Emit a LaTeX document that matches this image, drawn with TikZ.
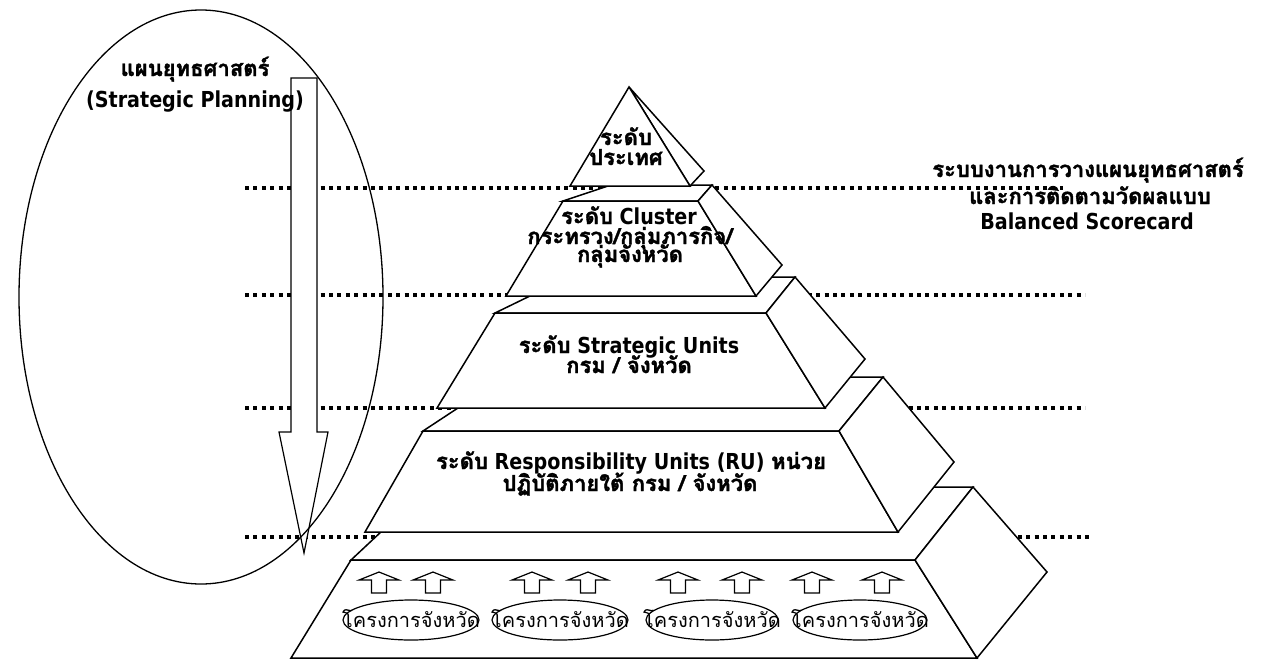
\documentclass[tikz,border=0pt]{standalone}
\usepackage{fontspec}
\setmainfont{DejaVu Sans}[FakeStretch=0.87]
\newfontfamily\thaifont[Script=Thai,BoldFeatures={FakeBold=1.6}]{Loma}
\newcommand\tht[1]{{\thaifont #1}}
\begin{document}
\begin{tikzpicture}[x=1pt,y=-1pt,
  face/.style={draw=black,fill=white,line width=1.5pt,line join=miter},
  guide/.style={line width=4pt,dash pattern=on 4pt off 4.4pt},
  lbl/.style={font=\fontsize{22}{26}\selectfont\bfseries,inner sep=0pt,anchor=base},
  ptxt/.style={font=\fontsize{20}{24}\selectfont,inner sep=0pt,anchor=base},
  projoval/.style={draw,line width=1.2pt},
  uparrow/.style={draw,line width=1.2pt,fill=white,line join=miter}]
\useasboundingbox (0,0) rectangle (1261,659);

% dotted guide lines (behind everything)
\coordinate (d1a) at (245,188); \coordinate (d1b) at (1063,188);
\coordinate (d2a) at (245,295); \coordinate (d2b) at (1085,295);
\coordinate (d3a) at (245,408); \coordinate (d3b) at (1085,408);
\coordinate (d4a) at (245,537); \coordinate (d4b) at (1090,537);
\draw[guide] (d1a) -- (d1b);
\draw[guide] (d2a) -- (d2b);
\draw[guide] (d3a) -- (d3b);
\draw[guide] (d4a) -- (d4b);

% big downward arrow
\filldraw[face,line width=1.2pt] (291,78) -- (317,78) -- (317,432) -- (328,432) -- (304,553) -- (279,432) -- (291,432) -- cycle;
% ellipse
\draw[line width=1.3pt] (201,297) ellipse [x radius=182pt, y radius=287pt];

% ---- pyramid, bottom layer first ----
% layer 5
\filldraw[face] (351,560) -- (429,487) -- (973,487) -- (915,560) -- cycle;
\filldraw[face] (351,560) -- (915,560) -- (977,658) -- (291,658) -- cycle;
\filldraw[face] (915,560) -- (973,487) -- (1047,572) -- (977,658) -- cycle;
% layer 4
\filldraw[face] (423,431) -- (505,377) -- (883,377) -- (839,431) -- cycle;
\filldraw[face] (423,431) -- (839,431) -- (898,532) -- (365,532) -- cycle;
\filldraw[face] (839,431) -- (883,377) -- (954,462) -- (898,532) -- cycle;
% layer 3
\filldraw[face] (495,313) -- (569,277) -- (795,277) -- (766,313) -- cycle;
\filldraw[face] (495,313) -- (766,313) -- (825,408) -- (437,408) -- cycle;
\filldraw[face] (766,313) -- (795,277) -- (865,359) -- (825,408) -- cycle;
% layer 2
\filldraw[face] (563,201) -- (611,185) -- (712,185) -- (698,201) -- cycle;
\filldraw[face] (563,201) -- (698,201) -- (756,296) -- (506,296) -- cycle;
\filldraw[face] (698,201) -- (712,185) -- (782,265) -- (756,296) -- cycle;
% layer 1
\filldraw[face] (629,87) -- (704,171) -- (690,186) -- cycle;
\filldraw[face] (629,87) -- (690,186) -- (570,186) -- cycle;

% project ovals and up arrows
\foreach \cx in {379,433,532,588,678,742,812,882}
  \draw[uparrow] (\cx-7.5,593) -- (\cx-7.5,580) -- (\cx-20,580) -- (\cx,572) -- (\cx+20,580) -- (\cx+7.5,580) -- (\cx+7.5,593) -- cycle;
\draw[projoval] (411,620) ellipse [x radius=68pt, y radius=20pt];
\draw[projoval] (560,620) ellipse [x radius=68pt, y radius=20pt];
\draw[projoval] (712,620) ellipse [x radius=66pt, y radius=20pt];
\draw[projoval] (860,620) ellipse [x radius=67pt, y radius=20pt];
\node[ptxt] (p1) at (411,627) {\tht{โครงการจังหวัด}};
\node[ptxt] (p2) at (560,627) {\tht{โครงการจังหวัด}};
\node[ptxt] (p3) at (712,627) {\tht{โครงการจังหวัด}};
\node[ptxt] (p4) at (860,627) {\tht{โครงการจังหวัด}};

% labels
\node[lbl] (sp1) at (195,76) {\tht{แผนยุทธศาสตร์}};
\node[lbl] (sp2) at (195,107) {(Strategic Planning)};

\node[lbl] (l1a) at (626,145) {\tht{ระดับ}};
\node[lbl] (l1b) at (626,165) {\tht{ประเทศ}};

\node[lbl] (l2a) at (629,224) {\tht{ระดับ} Cluster};
\node[lbl] (l2b) at (630,244) {\tht{กระทรวง/กลุ่มภารกิจ/}};
\node[lbl] (l2c) at (630,262) {\tht{กลุ่มจังหวัด}};

\node[lbl] (l3a) at (629,353) {\tht{ระดับ} Strategic Units};
\node[lbl] (l3b) at (629,373) {\tht{กรม / จังหวัด}};

\node[lbl] (l4a) at (631,469) {\tht{ระดับ} Responsibility Units (RU) \tht{หน่วย}};
\node[lbl] (l4b) at (630,491) {\tht{ปฏิบัติภายใต้ กรม / จังหวัด}};

\node[lbl] (r1) at (1088,177) {\tht{ระบบงานการวางแผนยุทธศาสตร์}};
\node[lbl] (r2) at (1090,204) {\tht{และการติดตามวัดผลแบบ}};
\node[lbl] (r3) at (1087,229) {Balanced Scorecard};
\end{tikzpicture}
\end{document}
